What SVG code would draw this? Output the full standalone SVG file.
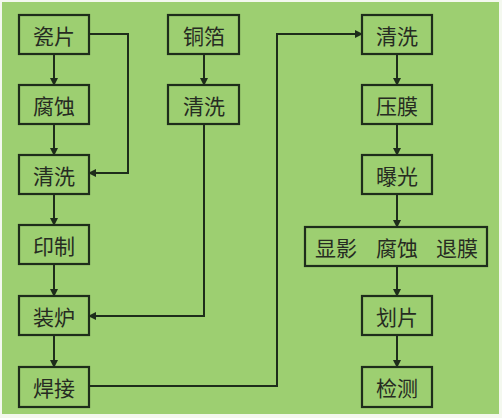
<svg xmlns="http://www.w3.org/2000/svg" width="502" height="418" viewBox="0 0 502 418">
<style>
.box{fill:none;stroke:#1e2d1b;stroke-width:2.2}
.t{font-family:"Noto Sans CJK SC","Noto Sans CJK JP",sans-serif;font-size:21px;fill:#262b22;text-anchor:middle;dominant-baseline:central}
.c{fill:none;stroke:#1e2d1b;stroke-width:2}
</style>
<defs>
<marker id="a" markerWidth="8" markerHeight="8" refX="7" refY="4" orient="auto" markerUnits="userSpaceOnUse">
<path d="M0,0 L8,4 L0,8 Z" fill="#1e2d1b"/>
</marker>
</defs>
<rect width="502" height="418" fill="#f4f8ef"/>
<rect x="2" y="2" width="497" height="412" fill="#9dcf71"/>
<g id="n1"><rect class="box" x="19" y="15" width="70" height="39"/><text class="t" x="54" y="35">瓷片</text></g>
<g id="n2"><rect class="box" x="19" y="85" width="70" height="39"/><text class="t" x="54" y="105">腐蚀</text></g>
<g id="n3"><rect class="box" x="19" y="155" width="70" height="39"/><text class="t" x="54" y="175">清洗</text></g>
<g id="n4"><rect class="box" x="19" y="225" width="70" height="39"/><text class="t" x="54" y="245">印制</text></g>
<g id="n5"><rect class="box" x="19" y="296" width="70" height="39"/><text class="t" x="54" y="316">装炉</text></g>
<g id="n6"><rect class="box" x="19" y="367" width="70" height="40"/><text class="t" x="54" y="387">焊接</text></g>
<g id="n7"><rect class="box" x="168" y="15" width="71" height="39"/><text class="t" x="204" y="35">铜箔</text></g>
<g id="n8"><rect class="box" x="168" y="85" width="71" height="39"/><text class="t" x="204" y="105">清洗</text></g>
<g id="n9"><rect class="box" x="362" y="15" width="70" height="39"/><text class="t" x="397" y="35">清洗</text></g>
<g id="n10"><rect class="box" x="362" y="85" width="70" height="39"/><text class="t" x="397" y="105">压膜</text></g>
<g id="n11"><rect class="box" x="362" y="155" width="70" height="39"/><text class="t" x="397" y="175">曝光</text></g>
<g id="n12"><rect class="box" x="305" y="227" width="182" height="39"/><text class="t" x="336" y="247">显影</text><text class="t" x="397" y="247">腐蚀</text><text class="t" x="457" y="247">退膜</text></g>
<g id="n13"><rect class="box" x="362" y="296" width="70" height="39"/><text class="t" x="397" y="316">划片</text></g>
<g id="n14"><rect class="box" x="362" y="367" width="70" height="40"/><text class="t" x="397" y="387">检测</text></g>
<g id="connectors">
<path class="c" d="M54,54 V85" marker-end="url(#a)"/>
<path class="c" d="M54,124 V155" marker-end="url(#a)"/>
<path class="c" d="M54,194 V225" marker-end="url(#a)"/>
<path class="c" d="M54,264 V296" marker-end="url(#a)"/>
<path class="c" d="M54,335 V367" marker-end="url(#a)"/>
<path class="c" d="M89,34 H128 V173 H89" marker-end="url(#a)"/>
<path class="c" d="M204,54 V85" marker-end="url(#a)"/>
<path class="c" d="M204,124 V316 H89" marker-end="url(#a)"/>
<path class="c" d="M89,386 H277 V34 H362" marker-end="url(#a)"/>
<path class="c" d="M397,54 V85" marker-end="url(#a)"/>
<path class="c" d="M397,124 V155" marker-end="url(#a)"/>
<path class="c" d="M397,194 V227" marker-end="url(#a)"/>
<path class="c" d="M397,266 V296" marker-end="url(#a)"/>
<path class="c" d="M397,335 V367" marker-end="url(#a)"/>
</g>
</svg>
